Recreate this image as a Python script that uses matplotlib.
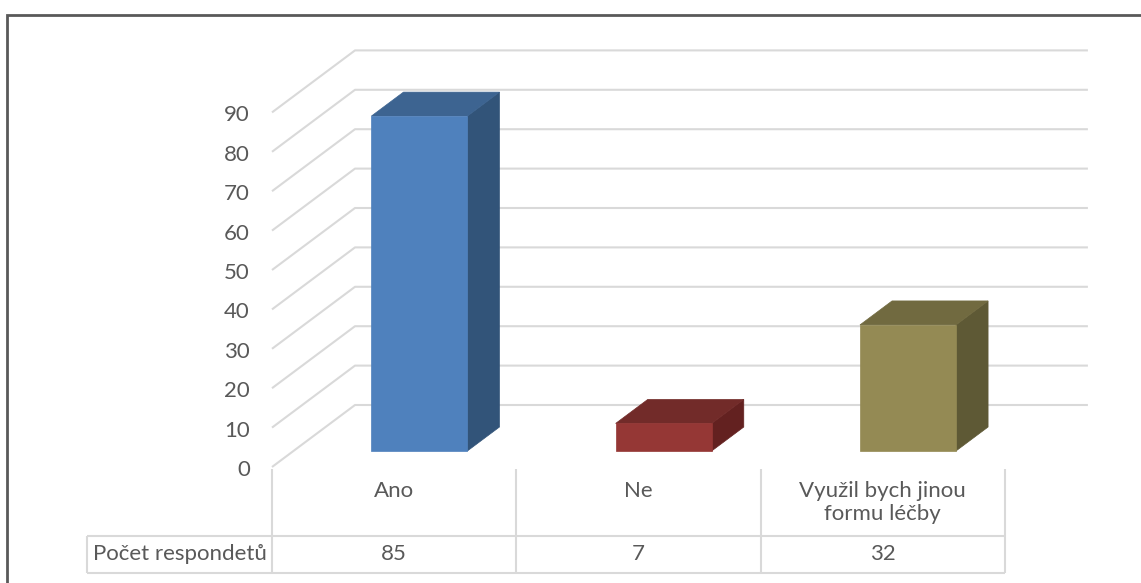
import matplotlib
matplotlib.use("Agg")
import matplotlib.pyplot as plt
from matplotlib.patches import Polygon, Rectangle

# ---- data ----
categories = ["Ano", "Ne", "Využil bych jinou\nformu léčby"]
values = [85, 7, 32]
series_name = "Počet respondetů"
yticks = list(range(0, 100, 10))

front_colors = ["#4F81BD", "#953735", "#948A54"]
top_colors = ["#3D6491", "#722B29", "#716A40"]
side_colors = ["#325479", "#632120", "#5E5935"]

plt.rcParams['font.family'] = ['Lato', 'DejaVu Sans']
TXT = "#595959"
GRID = "#D9D9D9"
FS = 16

W, H = 1141, 583
fig = plt.figure(figsize=(W / 100, H / 100), dpi=100)
ax = fig.add_axes([0, 0, 1, 1])

# layout (pixel geometry of the Excel-like 3D view)
COL_PX = 244.3     # width of one category column in px
X0_PX = 272        # left edge of plot front
UNIT_PX = 3.94     # px per value unit
Y0_PX = 467        # front zero line
ax.set_xlim(-X0_PX / COL_PX, (W - X0_PX) / COL_PX)
ax.set_ylim((Y0_PX - H) / UNIT_PX, Y0_PX / UNIT_PX)
ax.axis('off')

DX = 83 / COL_PX
DY = 62 / UNIT_PX


def proj(x, v, z):
    return (x + DX * z, v + DY * z)


def px2data(xp, yp):
    return ((xp - X0_PX) / COL_PX, (Y0_PX - yp) / UNIT_PX)


n = len(categories)

# gridlines (left wall diagonal + back wall horizontal)
for v in yticks:
    p0 = proj(0, v, 0)
    p1 = proj(0, v, 1)
    p2 = proj(n, v, 1)
    ax.plot([p0[0], p1[0], p2[0]], [p0[1], p1[1], p2[1]], color=GRID,
            lw=1.5, zorder=1, solid_capstyle='butt')
    ax.annotate(str(v), xy=p0, xytext=(-22, -3), textcoords='offset pixels',
                ha='right', va='center', fontsize=FS, color=TXT)

# bars
zf, zb = 0.258, 0.645
off, bw = 0.319, 0.393
for i, v in enumerate(values):
    x0, x1 = i + off, i + off + bw
    side = [proj(x1, 0, zf), proj(x1, 0, zb), proj(x1, v, zb), proj(x1, v, zf)]
    top = [proj(x0, v, zf), proj(x1, v, zf), proj(x1, v, zb), proj(x0, v, zb)]
    front = [proj(x0, 0, zf), proj(x1, 0, zf), proj(x1, v, zf), proj(x0, v, zf)]
    ax.add_patch(Polygon(side, closed=True, fc=side_colors[i], ec=side_colors[i], lw=0.5, zorder=3))
    ax.add_patch(Polygon(top, closed=True, fc=top_colors[i], ec=top_colors[i], lw=0.5, zorder=3))
    ax.add_patch(Polygon(front, closed=True, fc=front_colors[i], ec=front_colors[i], lw=0.5, zorder=4))

# data table
lx, _ = px2data(87, 0)
_, r0 = px2data(0, 469)
_, r1 = px2data(0, 536)
_, r2 = px2data(0, 573)
tkw = dict(color=GRID, lw=1.5, zorder=2, solid_capstyle='butt')
for k in range(n + 1):
    ax.plot([k, k], [r0, r2], **tkw)
ax.plot([lx, lx], [r1, r2], **tkw)
ax.plot([lx, n], [r1, r1], **tkw)
ax.plot([lx, n], [r2, r2], **tkw)

ylab = px2data(0, 481)[1]
for i, c in enumerate(categories):
    ax.text(i + 0.5, ylab, c, ha='center', va='top', fontsize=FS,
            color=TXT, linespacing=1.2)
    ax.text(i + 0.5, (r1 + r2) / 2, str(values[i]), ha='center', va='center',
            fontsize=FS, color=TXT)
ax.text((lx + 0) / 2, (r1 + r2) / 2, series_name, ha='center', va='center',
        fontsize=FS, color=TXT)

# outer chart border (extends past right and bottom edges)
fig.add_artist(Rectangle((7 / W, -10 / H), (W + 10 - 7) / W, (H + 10 - 15) / H,
                         transform=fig.transFigure, fill=False,
                         ec="#595959", lw=2))

fig.savefig("out.png", dpi=100)
